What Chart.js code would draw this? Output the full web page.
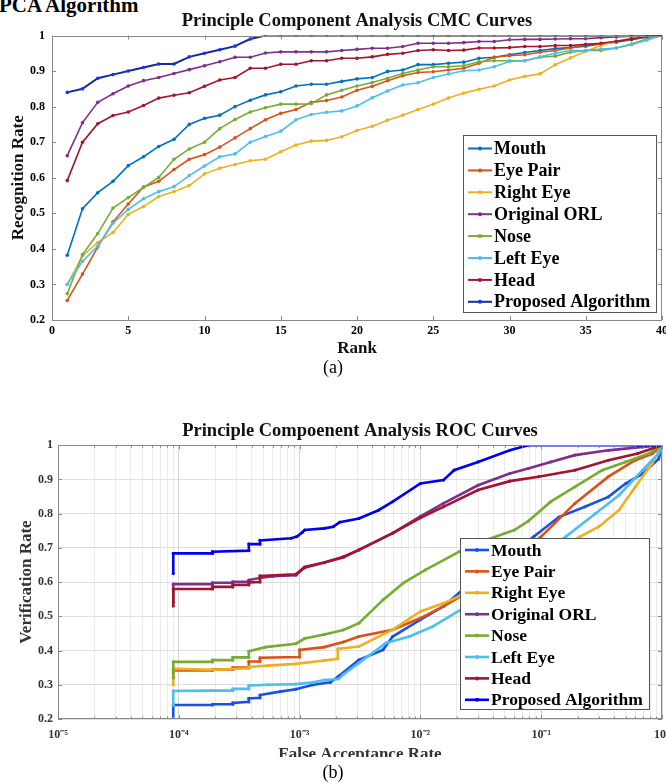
<!DOCTYPE html>
<html>
<head>
<meta charset="utf-8">
<script src="https://cdn.jsdelivr.net/npm/chart.js@4.4.1/dist/chart.umd.min.js"></script>
<style>
html, body { margin: 0; padding: 0; background: #fff; width: 666px; height: 782px; overflow: hidden; position: relative; }
#hdr { position: absolute; left: -1px; top: -5px; font: bold 21px/21px "Liberation Serif", serif; color: #000; white-space: nowrap; }
.cap { position: absolute; left: 0; width: 666px; text-align: center; font: 18px/20px "Liberation Serif", serif; color: #000; }
#w1 { position: absolute; left: 0; top: 0; width: 666px; height: 360px; overflow: hidden; }
#w2 { position: absolute; left: 0; top: 385px; width: 666px; height: 372px; overflow: hidden; }
canvas { display: block; }
</style>
</head>
<body>
<div id="hdr">PCA Algorithm</div>
<div id="w1"><canvas id="cmc" width="666" height="360"></canvas></div>
<div class="cap" style="top:357px">(a)</div>
<div id="w2"><canvas id="roc" width="666" height="380"></canvas></div>
<div class="cap" style="top:762px">(b)</div>
<script>
// series names and colours
const names = ['Mouth', 'Eye Pair', 'Right Eye', 'Original ORL', 'Nose', 'Left Eye', 'Head', 'Proposed Algorithm']
const cmcColors = ['#0072BD', '#D95319', '#EDB120', '#7E2F8E', '#77AC30', '#4DBEEE', '#A2142F', '#1b2a8f']
const rocColors = ['#1a4fe8', '#D95319', '#EDB120', '#7E2F8E', '#77AC30', '#4DBEEE', '#A2142F', '#0000f0']

// CMC curves (rank 1..40)
const ranks = [1,2,3,4,5,6,7,8,9,10,11,12,13,14,15,16,17,18,19,20,21,22,23,24,25,26,27,28,29,30,31,32,33,34,35,36,37,38,39,40]
const cmcMouth = [0.382,0.513,0.558,0.59,0.634,0.659,0.688,0.708,0.75,0.767,0.776,0.80,0.818,0.833,0.842,0.858,0.863,0.863,0.871,0.878,0.882,0.899,0.903,0.918,0.918,0.922,0.925,0.936,0.939,0.946,0.952,0.958,0.963,0.966,0.97,0.976,0.981,0.988,0.995,1.0]
const cmcEyePair = [0.255,0.329,0.405,0.476,0.526,0.574,0.59,0.623,0.652,0.665,0.686,0.712,0.738,0.763,0.781,0.792,0.812,0.817,0.827,0.846,0.857,0.873,0.887,0.896,0.898,0.903,0.908,0.922,0.939,0.943,0.946,0.953,0.958,0.965,0.974,0.976,0.983,0.991,0.995,1.0]
const cmcRightEye = [0.30,0.38,0.418,0.446,0.497,0.519,0.547,0.561,0.578,0.611,0.627,0.637,0.648,0.652,0.673,0.692,0.703,0.705,0.715,0.733,0.745,0.762,0.776,0.792,0.807,0.824,0.838,0.849,0.858,0.875,0.885,0.892,0.918,0.937,0.956,0.972,0.984,0.993,0.997,1.0]
const cmcOrl = [0.662,0.755,0.812,0.836,0.858,0.873,0.882,0.893,0.904,0.915,0.926,0.939,0.939,0.951,0.954,0.954,0.954,0.954,0.958,0.961,0.964,0.964,0.969,0.978,0.978,0.978,0.98,0.983,0.983,0.988,0.989,0.989,0.99,0.991,0.991,0.994,0.996,0.998,0.999,1.0]
const cmcNose = [0.274,0.384,0.443,0.515,0.544,0.573,0.601,0.652,0.681,0.70,0.738,0.764,0.785,0.797,0.807,0.807,0.808,0.833,0.846,0.858,0.868,0.88,0.893,0.903,0.912,0.912,0.915,0.926,0.929,0.929,0.929,0.939,0.942,0.953,0.958,0.958,0.965,0.976,0.99,1.0]
const cmcLeftEye = [0.30,0.365,0.408,0.472,0.511,0.541,0.561,0.575,0.606,0.633,0.659,0.667,0.70,0.716,0.731,0.763,0.778,0.784,0.788,0.802,0.825,0.844,0.861,0.867,0.882,0.892,0.901,0.903,0.912,0.927,0.929,0.94,0.95,0.958,0.958,0.962,0.965,0.974,0.987,1.0]
const cmcHead = [0.592,0.70,0.752,0.775,0.785,0.803,0.824,0.832,0.839,0.857,0.875,0.882,0.908,0.908,0.919,0.919,0.929,0.929,0.936,0.936,0.94,0.947,0.95,0.958,0.96,0.958,0.959,0.965,0.965,0.966,0.969,0.969,0.972,0.972,0.975,0.978,0.984,0.99,0.997,1.0]
const cmcProposed = [0.84,0.85,0.88,0.89,0.90,0.91,0.92,0.92,0.94,0.95,0.96,0.97,0.99,1,1,1,1,1,1,1,1,1,1,1,1,1,1,1,1,1,1,1,1,1,1,1,1,1,1,1]

// ROC curves: [false acceptance rate, verification rate]
const rocMouth = [[9e-5,0.2],[9e-5,0.241],[1.9e-4,0.241],[1.9e-4,0.243],[2.8e-4,0.243],[2.8e-4,0.247],[3.8e-4,0.25],[3.8e-4,0.26],[4.7e-4,0.262],[4.7e-4,0.27],[6.9e-4,0.28],[9.3e-4,0.287],[1.3e-3,0.3],[1.8e-3,0.307],[2.1e-3,0.325],[3.1e-3,0.373],[4.9e-3,0.402],[5.9e-3,0.441],[1e-2,0.49],[1.55e-2,0.529],[2.4e-2,0.587],[8.7e-2,0.733],[0.14,0.79],[0.23,0.82],[0.36,0.849],[0.5,0.888],[0.69,0.917],[0.94,0.96],[1,1]]
const rocEyePair = [[9e-5,0.335],[9e-5,0.342],[1.9e-4,0.342],[1.9e-4,0.345],[2.8e-4,0.345],[2.8e-4,0.35],[3.8e-4,0.35],[3.8e-4,0.368],[4.7e-4,0.368],[4.7e-4,0.379],[1e-3,0.381],[1e-3,0.402],[1.6e-3,0.41],[2.3e-3,0.425],[3.1e-3,0.441],[5.9e-3,0.461],[1e-2,0.495],[1.55e-2,0.529],[2.4e-2,0.568],[5e-2,0.656],[0.1,0.733],[0.19,0.83],[0.36,0.908],[0.6,0.956],[0.83,0.975],[1,1]]
const rocRightEye = [[9e-5,0.3],[9e-5,0.347],[1.9e-4,0.344],[3.8e-4,0.348],[3.8e-4,0.352],[5.5e-4,0.356],[9.3e-4,0.361],[1.6e-3,0.371],[2.07e-3,0.376],[2.07e-3,0.405],[3.1e-3,0.412],[5.9e-3,0.461],[1e-2,0.514],[1.55e-2,0.538],[2.4e-2,0.568],[6e-2,0.63],[0.12,0.685],[0.21,0.733],[0.3,0.762],[0.44,0.81],[0.6,0.878],[0.83,0.947],[1,1]]
const rocOrl = [[9e-5,0.54],[9e-5,0.594],[1.9e-4,0.594],[1.9e-4,0.598],[2.8e-4,0.598],[2.8e-4,0.601],[3.8e-4,0.601],[3.8e-4,0.606],[4.7e-4,0.612],[6e-4,0.617],[9.3e-4,0.62],[1.1e-3,0.642],[1.6e-3,0.657],[2.3e-3,0.672],[3.1e-3,0.694],[5.9e-3,0.743],[1e-2,0.792],[1.55e-2,0.83],[3e-2,0.883],[5.5e-2,0.917],[7.8e-2,0.932],[0.12,0.951],[0.19,0.971],[0.36,0.985],[0.69,0.995],[1,1]]
const rocNose = [[9e-5,0.32],[9e-5,0.367],[1.9e-4,0.367],[1.9e-4,0.372],[2.8e-4,0.372],[2.8e-4,0.38],[3.8e-4,0.38],[3.8e-4,0.398],[5.2e-4,0.41],[9.3e-4,0.42],[1.1e-3,0.435],[1.6e-3,0.447],[2.3e-3,0.46],[3.1e-3,0.48],[4.9e-3,0.548],[7.2e-3,0.597],[1.1e-2,0.636],[2.1e-2,0.689],[3.5e-2,0.723],[6e-2,0.752],[7.8e-2,0.778],[0.12,0.835],[0.19,0.878],[0.32,0.927],[0.5,0.951],[0.78,0.976],[1,1]]
const rocLeftEye = [[9e-5,0.24],[9e-5,0.282],[1.9e-4,0.283],[2.8e-4,0.283],[2.8e-4,0.288],[3.8e-4,0.288],[3.8e-4,0.298],[5.5e-4,0.3],[9.3e-4,0.302],[1.3e-3,0.307],[1.6e-3,0.314],[2.1e-3,0.317],[2.3e-3,0.33],[3.1e-3,0.364],[5.2e-3,0.422],[8.1e-3,0.441],[1.26e-2,0.47],[2.4e-2,0.529],[0.16,0.733],[0.28,0.8],[0.44,0.854],[0.69,0.927],[0.94,0.976],[1,1]]
const rocHead = [[9e-5,0.53],[9e-5,0.58],[1.9e-4,0.58],[1.9e-4,0.586],[2.8e-4,0.586],[2.8e-4,0.592],[3.8e-4,0.592],[3.8e-4,0.599],[4.7e-4,0.6],[4.7e-4,0.618],[9.3e-4,0.623],[1.1e-3,0.644],[1.6e-3,0.657],[2.3e-3,0.674],[3.1e-3,0.694],[5.9e-3,0.743],[1e-2,0.788],[1.55e-2,0.82],[3e-2,0.869],[5.5e-2,0.895],[9.5e-2,0.908],[0.19,0.927],[0.36,0.956],[0.63,0.976],[1,1]]
const rocProposed = [[9e-5,0.625],[9e-5,0.684],[1.9e-4,0.684],[1.9e-4,0.689],[3.8e-4,0.692],[3.8e-4,0.711],[4.7e-4,0.711],[4.7e-4,0.722],[8.5e-4,0.728],[9.5e-4,0.733],[1.05e-3,0.745],[1.1e-3,0.752],[1.6e-3,0.757],[1.9e-3,0.762],[2.15e-3,0.775],[3.1e-3,0.786],[4.5e-3,0.81],[5.9e-3,0.835],[1e-2,0.888],[1.55e-2,0.898],[1.9e-2,0.927],[3e-2,0.951],[5.5e-2,0.985],[7.8e-2,1.0],[1,1.0]]

// tick values
const cmcYTicks = [0.2, 0.3, 0.4, 0.5, 0.6, 0.7, 0.8, 0.9, 1]
const farTicks = []
for (let e = -5; e < 0; e++) for (let m = 1; m < 10; m++) farTicks.push(m * Math.pow(10, e))
farTicks.push(1)

const serif = '"Liberation Serif", "Times New Roman", serif'
const sup = {'-': '\u207B', '0': '\u2070', '1': '\u00B9', '2': '\u00B2', '3': '\u00B3', '4': '\u2074', '5': '\u2075'}
const isDecade = v => Math.abs(Math.log10(v) - Math.round(Math.log10(v))) < 1e-9

// axes box with inward tick marks (matlab look)
const boxTicks = {
  id: 'boxTicks',
  afterDatasetsDraw(chart, args, o) {
    const {ctx, chartArea: a, scales: {x, y}} = chart
    ctx.save()
    ctx.strokeStyle = o.color
    ctx.lineWidth = 1
    ctx.beginPath()
    x.ticks.forEach(t => {
      const px = Math.round(x.getPixelForValue(t.value)) + 0.5
      const len = (o.log && !isDecade(t.value)) ? o.minor : o.len
      ctx.moveTo(px, a.bottom); ctx.lineTo(px, a.bottom - len)
      ctx.moveTo(px, a.top); ctx.lineTo(px, a.top + len)
    })
    y.ticks.forEach(t => {
      const py = Math.round(y.getPixelForValue(t.value)) + 0.5
      ctx.moveTo(a.left, py); ctx.lineTo(a.left + o.len, py)
      ctx.moveTo(a.right, py); ctx.lineTo(a.right - o.len, py)
    })
    ctx.stroke()
    ctx.strokeRect(Math.round(a.left) + 0.5, Math.round(a.top) + 0.5, Math.round(a.width) - 1, Math.round(a.height) - 1)
    ctx.restore()
  }
}

// legend box drawn inside the plot
const boxLegend = {
  id: 'boxLegend',
  afterDraw(chart, args, o) {
    const ctx = chart.ctx
    ctx.save()
    ctx.fillStyle = '#fff'
    ctx.fillRect(o.x, o.y, o.w, o.h)
    ctx.strokeStyle = '#555'
    ctx.lineWidth = 1
    ctx.strokeRect(o.x + 0.5, o.y + 0.5, o.w, o.h)
    ctx.font = 'bold ' + o.size + 'px ' + serif
    ctx.textBaseline = 'middle'
    chart.data.datasets.forEach((ds, i) => {
      const cy = o.y + o.top + i * o.row
      ctx.strokeStyle = ds.borderColor
      ctx.lineWidth = o.lw
      ctx.beginPath()
      ctx.moveTo(o.x + o.l1, cy); ctx.lineTo(o.x + o.l2, cy)
      ctx.stroke()
      ctx.fillStyle = ds.pointBackgroundColor
      ctx.beginPath()
      ctx.arc(o.x + (o.l1 + o.l2) / 2, cy, 2, 0, Math.PI * 2)
      ctx.fill()
      ctx.fillStyle = '#000'
      ctx.fillText(ds.label, o.x + o.tx, cy + 1)
    })
    ctx.restore()
  }
}

const cmcSeries = [cmcMouth, cmcEyePair, cmcRightEye, cmcOrl, cmcNose, cmcLeftEye, cmcHead, cmcProposed]

new Chart(document.getElementById('cmc'), {
  type: 'line',
  data: {
    datasets: cmcSeries.map((s, i) => ({
      label: names[i],
      data: s.map((v, k) => ({x: ranks[k], y: v})),
      borderColor: cmcColors[i],
      backgroundColor: cmcColors[i],
      pointBackgroundColor: i === 7 ? '#1530ff' : cmcColors[i],
      pointBorderColor: i === 7 ? '#1530ff' : cmcColors[i],
      borderWidth: i === 7 ? 2 : 1.6,
      pointRadius: 1.8,
      pointBorderWidth: 0,
      order: -i
    }))
  },
  options: {
    responsive: false,
    animation: false,
    events: [],
    layout: {padding: 0},
    plugins: {
      legend: {display: false},
      tooltip: {enabled: false},
      title: {
        display: true,
        fullSize: false,
        text: 'Principle Component Analysis CMC Curves',
        color: '#111',
        font: {family: serif, weight: 'bold', size: 18.5},
        padding: {top: 10, bottom: 3.3}
      },
      boxTicks: {color: '#888', len: 4, minor: 4, log: false},
      boxLegend: {x: 463, y: 135, w: 193, h: 177, top: 13.5, row: 21.9, l1: 5, l2: 29, tx: 31, size: 18, lw: 2}
    },
    scales: {
      x: {
        type: 'linear', min: 0, max: 40,
        grid: {display: false, drawTicks: false},
        border: {display: false},
        ticks: {stepSize: 5, color: '#000', padding: 4, font: {family: serif, weight: 'bold', size: 12}, maxRotation: 0},
        title: {display: true, text: 'Rank', color: '#111', font: {family: serif, weight: 'bold', size: 17}, padding: {top: 0, bottom: 0.8}},
        afterFit: s => { s.height = 40; s.paddingLeft = 0; s.paddingRight = 0 }
      },
      y: {
        min: 0.2, max: 1,
        grid: {display: false, drawTicks: false},
        border: {display: false},
        afterBuildTicks: s => { s.ticks = cmcYTicks.map(v => ({value: v})) },
        ticks: {color: '#000', padding: 7, font: {family: serif, weight: 'bold', size: 12}, callback: v => String(Math.round(v * 10) / 10)},
        title: {display: true, text: 'Recognition Rate', color: '#111', font: {family: serif, weight: 'bold', size: 17}, padding: {top: 8.3, bottom: 0}},
        afterFit: s => { s.width = 52; s.paddingTop = 0; s.paddingBottom = 0 }
      }
    }
  },
  plugins: [boxTicks, boxLegend]
})

const rocSeries = [rocMouth, rocEyePair, rocRightEye, rocOrl, rocNose, rocLeftEye, rocHead, rocProposed]

new Chart(document.getElementById('roc'), {
  type: 'line',
  data: {
    datasets: rocSeries.map((s, i) => ({
      label: names[i],
      data: s.map(p => ({x: p[0], y: p[1]})),
      borderColor: rocColors[i],
      backgroundColor: rocColors[i],
      pointBackgroundColor: rocColors[i],
      pointBorderColor: rocColors[i],
      borderWidth: 2.6,
      pointRadius: 1.6,
      pointBorderWidth: 0,
      order: -i
    }))
  },
  options: {
    responsive: false,
    animation: false,
    events: [],
    layout: {padding: 0},
    plugins: {
      legend: {display: false},
      tooltip: {enabled: false},
      title: {
        display: true,
        fullSize: false,
        text: 'Principle Compoenent Analysis ROC Curves',
        color: '#111',
        font: {family: serif, weight: 'bold', size: 18.5},
        padding: {top: 35, bottom: 3}
      },
      boxTicks: {color: '#888', len: 4, minor: 2.5, log: true},
      boxLegend: {x: 460, y: 153, w: 189, h: 171, top: 12, row: 21.4, l1: 5, l2: 29, tx: 31, size: 17.5, lw: 2.6}
    },
    scales: {
      x: {
        type: 'logarithmic', min: 1e-5, max: 1,
        grid: {drawTicks: false, color: c => (c.tick && isDecade(c.tick.value)) ? '#d6d6d6' : '#ebebeb'},
        border: {display: false},
        afterBuildTicks: s => { s.ticks = farTicks.map(v => ({value: v, major: isDecade(v)})) },
        ticks: {
          autoSkip: false, maxRotation: 0, color: '#333', padding: 9,
          font: {family: serif, weight: 'bold', size: 12},
          callback: v => isDecade(v) ? '10' + String(Math.round(Math.log10(v))).split('').map(ch => sup[ch]).join('') : ''
        },
        title: {display: true, text: 'False Acceptance Rate', color: '#333', font: {family: serif, weight: 'bold', size: 17}, padding: {top: 0, bottom: 0}},
        afterFit: s => { s.height = 46; s.paddingLeft = 0; s.paddingRight = 0 }
      },
      y: {
        min: 0.2, max: 1,
        grid: {drawTicks: false, color: '#dedede'},
        border: {display: false},
        afterBuildTicks: s => { s.ticks = cmcYTicks.map(v => ({value: v})) },
        ticks: {color: '#333', padding: 5, font: {family: serif, weight: 'bold', size: 12}, callback: v => String(Math.round(v * 10) / 10)},
        title: {display: true, text: 'Verification Rate', color: '#333', font: {family: serif, weight: 'bold', size: 17}, padding: {top: 16.5, bottom: 0}},
        afterFit: s => { s.width = 58; s.paddingTop = 0; s.paddingBottom = 0 }
      }
    }
  },
  plugins: [boxTicks, boxLegend]
})
</script>
</body>
</html>
